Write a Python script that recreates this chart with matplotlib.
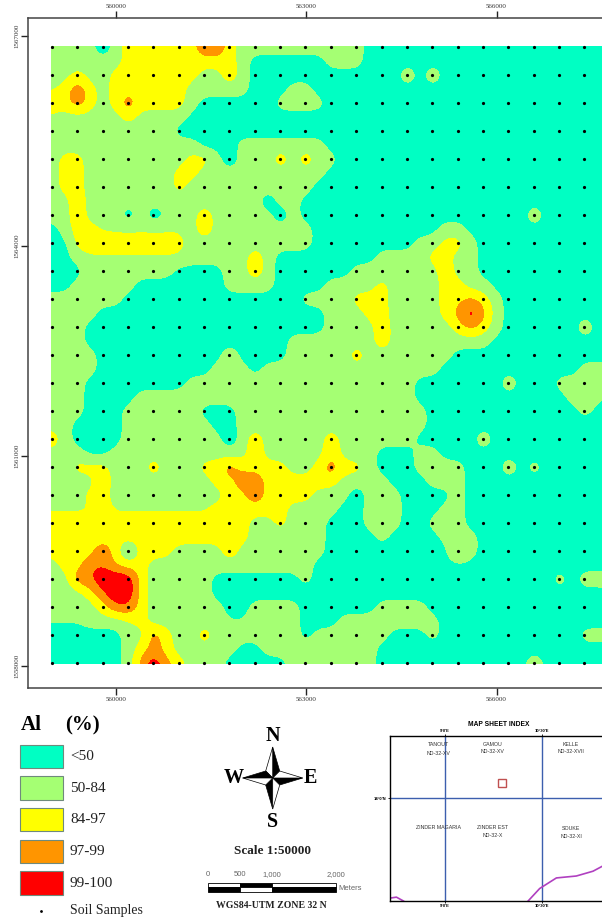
"""Al (%) soil geochemistry map, sheet index and legend."""
import re
import numpy as np
import matplotlib
matplotlib.use("Agg")
import matplotlib.pyplot as plt
from matplotlib.colors import BoundaryNorm, ListedColormap
from matplotlib.patches import Polygon, Rectangle

plt.rcParams["font.family"] = ["Liberation Serif", "DejaVu Serif"]

W, H = 602, 918

# Al classes
CLASS_LABELS = ["<50", "50-84", "84-97", "97-99", "99-100"]
CLASS_EDGES = [0, 50, 84, 97, 99, 100]
CLASS_COLORS = ["#00ffc3", "#a5ff73", "#ffff00", "#ff9500", "#ff0000"]

# Al on a half sample spacing (200 m) raster, north to south,
# run-length coded; each letter is a level
LEVELS = {"u": 10, "t": 30, "a": 52, "g": 65, "i": 72, "h": 80, "y": 91, "n": 96.5,
          "p": 97.8, "o": 98.8, "r": 100}
AL_ROWS = [
    "4g1u1g6y2o1y10g20t", "6g9y1g6t3g20t", "2g1y2g7y2g1n1g12t1h1t1h14t",
    "1h1y1o1y1g6y5g3t2g24t", "2y1o1y1g1y1o4y1g6t4g23t", "1h5g1y4g34t",
    "10g35t", "12g3t7g23t", "1g2y8g2y1g1u3g1n1g1n2g22t",
    "1g2y7g2y10g23t", "1g2y7g1y10g24t", "2g1n14g1u2g25t",
    "2g1n3g1u1g1u1a2g1n5g1u1g18t1h6t", "1t1g2y7h1g1n8g10t2g12t", "2t9y10g8t2g2y1g11t",
    "2t1g8h5g1n1g8t4g2y2g11t", "3t7g4t2g1n1g6t7g1n2g11t", "2t5g7t4g4t4g1y4g2y2g10t",
    "6g14t4g3y4g2y1p1y1g9t", "4g18t3g2y4g1y1p1r1p1g9t", "3g19t4g1n5g1y1p1y1g6t1h2t",
    "3g16t7g1n8g10t", "4g10t1h4t5g1n7g13t", "4g9t3g1t14g11t3g",
    "3g8t18g7t1h3t5g", "3g4t22g12t3g1t", "3g3t6g3t15g12t1g2t",
    "2g4t7g2t15g15t", "1n1g4t8g1u1g1n5g1n6g5t1h10t", "3g2t11g1n5g1n3g3t2g14t",
    "2g3y3g1n3g2y1o4y2g1y1o2y1g3t4g3t1h1t1i6t", "4g1n8g2y2o6y4g3t3g12t",
    "3g2y9g2y1o4y3g1u3g4t1g12t", "4h1y8h6y4g2t3g3t2g12t",
    "16y2g1y3g3t3g2t3g12t", "16y6g4t1g4t3g11t", "4y1o1y1u3y4g1n7g10t1n1g11t",
    "1g2y2o1n2y13g24t", "2g2o3r1y5g7t1g19t1i1t1i1g1h", "3g1y1o2r1y5g32t",
    "4g1y2o1y6g2t4g6t4g15t", "3a3g1h1y6g2a4g3t8g14t", "6t2g1o1y2g1n7g1t6g3t1g11t3g",
    "6t1g1y1p1y5g2t9g19t", "6t1g1p1r1p1y3g5t7g12t1h6t",
]

# sample grid, UTM metres
SAMPLE_E = np.arange(558985, 558985 + 23 * 400, 400)
SAMPLE_N = np.arange(1566838, 1566838 - 23 * 400, -400)

X_TICKS = [560000, 563000, 566000]
Y_TICKS = [1558000, 1561000, 1564000, 1567000]

# scale bar
BAR_METERS = [0, 500, 1000, 2000]
BAR_LABELS = ["0", "500", "1,000", "2,000"]

# sheet index
INDEX_LON = [9.0, 10.5]
INDEX_LAT = [14.0]
INDEX_SITE = (9.88, 14.16)
BORDER_LON = [10.29, 10.47, 10.73, 11.04, 11.30, 11.44]
BORDER_LAT = [12.93, 13.06, 13.17, 13.19, 13.24, 13.29]
BORDER2_LON = [8.14, 8.24, 8.35]
BORDER2_LAT = [12.96, 12.97, 12.93]
SHEETS = [
    (8.90, 14.56, "TANOUT"), (8.90, 14.46, "ND-32-XV"),
    (9.73, 14.56, "GAMOU"), (9.73, 14.49, "ND-32-XV"),
    (10.96, 14.56, "KELLE"), (10.96, 14.49, "ND-32-XVII"),
    (8.89, 13.69, "ZINDER MAGARIA"),
    (9.74, 13.69, "ZINDER EST"), (9.74, 13.61, "ND-32-X"),
    (10.96, 13.68, "SOUKE"), (10.96, 13.60, "ND-32-XI"),
]


def decode(row):
    cells = []
    for n, c in re.findall(r"(\d+)([a-z])", row):
        cells += [LEVELS[c]] * int(n)
    return cells


def px_axes(left, top, right, bottom):
    return fig.add_axes([left / W, 1 - bottom / H, (right - left) / W, (bottom - top) / H])


al = np.array([decode(r) for r in AL_ROWS], dtype=float)
# classes are very uneven in %, so smooth on an even class scale
al_pos = np.interp(al, CLASS_EDGES, np.arange(len(CLASS_EDGES)))

fig = plt.figure(figsize=(W / 100, H / 100), dpi=100)

# main map
ax = px_axes(28, 18, 602, 688)
east = lambda px: 560000 + (px - 116.3) / 63.37 * 1000
north = lambda py: 1567000 - (py - 36) / 69.95 * 1000

cmap = ListedColormap(CLASS_COLORS)
cmap.set_under(CLASS_COLORS[0])
cmap.set_over(CLASS_COLORS[-1])
norm = BoundaryNorm(np.arange(len(CLASS_EDGES)), cmap.N)
im = ax.imshow(al_pos, cmap=cmap, norm=norm, interpolation="bicubic", interpolation_stage="data",
               extent=(SAMPLE_E[0] - 100, SAMPLE_E[-1] + 100, SAMPLE_N[-1] - 100, SAMPLE_N[0] + 100),
               aspect="auto")
im.set_clip_path(Rectangle((SAMPLE_E[0] - 20, SAMPLE_N[-1] - 10), SAMPLE_E[-1] - SAMPLE_E[0] + 40,
                           SAMPLE_N[0] - SAMPLE_N[-1] + 30, transform=ax.transData))
ax.set_xlim(east(28), east(602))
ax.set_ylim(north(688), north(18))

ee, nn = np.meshgrid(SAMPLE_E, SAMPLE_N)
ax.plot(ee.ravel(), nn.ravel(), "o", ms=2.3, color="black", mew=0)

ax.set_xticks(X_TICKS, [str(v) for v in X_TICKS])
ax.set_yticks(Y_TICKS, [str(v) for v in Y_TICKS])
ax.tick_params(axis="both", top=True, bottom=True, labeltop=True, labelbottom=True,
               length=5, width=1, labelsize=5, pad=1.5, color="#222222", labelcolor="#333333")
for lab in ax.get_yticklabels():
    lab.set_rotation(90)
    lab.set_va("center")
for side in ["top", "bottom", "left"]:
    ax.spines[side].set_linewidth(1.1)
    ax.spines[side].set_color("#444444")
ax.spines["right"].set_visible(False)

# overlay in pixels for legend and map furniture
ov = fig.add_axes([0, 0, 1, 1], zorder=5)
ov.set_xlim(0, W)
ov.set_ylim(H, 0)
ov.axis("off")

ov.text(21, 725, "Al", fontsize=15, fontweight="bold", va="center")
ov.text(65, 725, "(%)", fontsize=15, fontweight="bold", va="center")
for i, (lab, col) in enumerate(zip(CLASS_LABELS, CLASS_COLORS)):
    top = 744.5 + i * 31.7
    ov.add_patch(Rectangle((20, top), 43, 23.5, fc=col, ec="#6f8a7c", lw=0.8))
    ov.text(70, top + 12, lab, fontsize=11, va="center", color="#222222")
ov.plot([41], [911], "o", ms=2, color="black", mew=0)
ov.text(70, 910.5, "Soil Samples", fontsize=10, va="center", color="#222222")

# north arrow
cx, cy = 272.7, 778
arm_n, arm_e, dg = 31, 30, 7
for dx, dy in [(0, -1), (1, 0), (0, 1), (-1, 0)]:
    tip = (cx + dx * arm_e, cy + dy * arm_n)
    a = (cx + (dx - dy) * dg, cy + (dy + dx) * dg)
    b = (cx + (dx + dy) * dg, cy + (dy - dx) * dg)
    # each arm is half black, half white
    ov.add_patch(Polygon([(cx, cy), tip, a], fc="black", ec="black", lw=0.5))
    ov.add_patch(Polygon([(cx, cy), tip, b], fc="white", ec="black", lw=0.5))
for lab, x, y in [("N", 273, 736), ("S", 273, 822), ("W", 234, 778), ("E", 310, 778)]:
    ov.text(x, y, lab, fontsize=14.5, fontweight="bold", ha="center", va="center")

ov.text(273, 851, "Scale 1:50000", fontsize=9.5, fontweight="bold", ha="center", va="center", color="#222222")

# scale bar
bar_x = lambda m: 208.3 + m * (335.7 - 208.3) / 2000
for i in range(len(BAR_METERS) - 1):
    x0, x1 = bar_x(BAR_METERS[i]), bar_x(BAR_METERS[i + 1])
    up, low = ("white", "black") if i % 2 == 0 else ("black", "white")
    ov.add_patch(Rectangle((x0, 882.7), x1 - x0, 4.7, fc=up, ec="black", lw=0.6))
    ov.add_patch(Rectangle((x0, 887.4), x1 - x0, 4.7, fc=low, ec="black", lw=0.6))
for m, lab in zip(BAR_METERS, BAR_LABELS):
    ov.text(bar_x(m), 875, lab, family="Liberation Sans", fontsize=5.5, ha="center", va="center", color="#666666")
ov.text(338, 888, "Meters", family="Liberation Sans", fontsize=5.5, va="center", color="#666666")
ov.text(271.7, 906, "WGS84-UTM ZONE 32 N", fontsize=7, fontweight="bold", ha="center", va="center", color="#222222")

# sheet index
ix = px_axes(390, 735.7, 602, 901)
ix.set_zorder(6)
ix.set_xlim(8.14, 11.44)
ix.set_ylim(12.93, 14.65)
for lon in INDEX_LON:
    ix.axvline(lon, color="#3c5fae", lw=1)
for lat in INDEX_LAT:
    ix.axhline(lat, color="#3c5fae", lw=1)
ix.plot(BORDER_LON, BORDER_LAT, color="#b040c0", lw=1.2, clip_on=False)
ix.plot(BORDER2_LON, BORDER2_LAT, color="#b040c0", lw=1.2)
ix.add_patch(Rectangle((INDEX_SITE[0] - 0.062, INDEX_SITE[1] - 0.042), 0.124, 0.083, fc="none", ec="#c05050", lw=1))
for lon, lat, lab in SHEETS:
    ix.text(lon, lat, lab, family="Liberation Sans", fontsize=3.8, ha="center", va="center", color="#333333")
ix.set_xticks(INDEX_LON, ["9°0'E", "10°30'E"])
ix.set_yticks(INDEX_LAT, ["14°0'N"])
ix.tick_params(axis="both", top=True, bottom=True, labeltop=True, labelbottom=True, length=1.5,
               width=0.6, labelsize=3, pad=0.8)
for lab in ix.get_xticklabels() + ix.get_yticklabels():
    lab.set_family("Liberation Sans")
    lab.set_fontweight("bold")
for side in ["top", "bottom", "left"]:
    ix.spines[side].set_linewidth(1)
ix.spines["right"].set_visible(False)
ov.text(499, 724, "MAP SHEET INDEX", family="Liberation Sans", fontsize=4.8, fontweight="bold", ha="center", va="center")

fig.savefig("out.png", dpi=100)
